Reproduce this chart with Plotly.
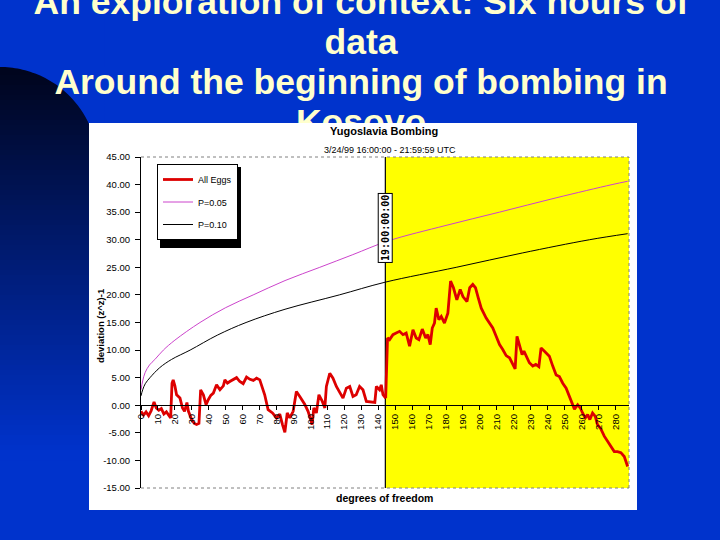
import numpy as np
import plotly.graph_objects as go

W, H = 720, 540

# ---------------- text ----------------
TITLE_LINES = ["An exploration of context: Six hours of", "data",
               "Around the beginning of bombing in", "Kosovo"]
CHART_TITLE = "Yugoslavia Bombing"
CHART_SUBTITLE = "3/24/99 16:00:00 - 21:59:59 UTC"
X_TITLE = "degrees of freedom"
Y_TITLE = "deviation (z^z)-1"
EVENT_LABEL = "19:00:00:00"
SERIES_NAMES = ["All Eggs", "P=0.05", "P=0.10"]

# ---------------- axes ----------------
X_MAX = 288
X_TICKS = list(range(0, 281, 10))
Y_TICKS = [-15, -10, -5, 0, 5, 10, 15, 20, 25, 30, 35, 40, 45]
Y_GRID = [-10, -5, 0, 5, 10, 15, 20, 25, 30, 35, 40]
EVENT_DF = 144.2
EVENT_LABEL_Y = 32.2

# ---------------- data ----------------
eggs_df = [0, 1.5, 3, 4.5, 6, 7.7, 9, 10.5, 12, 13.5, 15, 16.5, 17.5, 18.3, 19, 20, 21, 23,
           24.5, 25.7, 27.1, 28, 29.9, 31.5, 32.8, 34.2, 35.2, 36.8, 38.4, 39.7, 41.2, 42.7,
           44.6, 46.6, 48.6, 49.5, 51, 52.4, 54.4, 56.4, 58.3, 60.3, 62.3, 64.3, 66.3, 68.2,
           70.1, 71.5, 73, 75, 77.6, 80, 81.9, 83.5, 84.9, 86.3, 87.8, 89.8, 91.7, 93.7, 95,
           96.6, 98.6, 101, 102, 103.5, 105, 107, 108.5, 109.4, 111.4, 113.3, 115.3, 117.3,
           119.2, 121.2, 123.2, 125.1, 127, 129, 131, 133, 136, 138, 138.9, 140.8, 141.8,
           142.8, 144.4, 145, 145.5, 146.7, 148.7, 150.6, 152.6, 154.6, 156.5, 158.5, 160.5,
           162.4, 164, 166, 168, 169.3, 170.7, 171.9, 173.2, 174.2, 175.8, 177.2, 179.1,
           181.1, 182.7, 184.4, 186.4, 188.4, 190, 192.4, 194, 195.8, 197.4, 199, 200.8,
           203.7, 205.7, 207.6, 209.6, 211.6, 213.5, 215.5, 217.5, 219.4, 220.8, 221.9,
           223.3, 224.9, 226, 227.3, 229.2, 231.2, 233, 234.8, 236.1, 238.1, 240, 241, 243,
           245, 246.9, 248.9, 250.9, 252.8, 254.8, 255.8, 257.7, 259.3, 260.6, 262.2, 263.6,
           264.9, 266.5, 268.1, 269.4, 271.4, 273.4, 275.3, 277.3, 279.3, 281.2, 283.2,
           285.2, 287.2]
eggs_dev = [-1.1, -1.8, -1.2, -1.9, -1.0, 0.6, -0.5, -0.9, -0.6, -1.6, -1.2, -2.0, -2.3, 4.0,
            4.6, 3.5, 1.9, 1.3, -0.5, -1.1, 0.5, -1.1, -2.6, -3.3, -3.5, -3.3, 2.8, 1.9, 0.1,
            1.0, 1.8, 2.2, 3.7, 2.8, 3.5, 4.6, 4.0, 4.3, 4.7, 5.0, 4.3, 3.9, 5.1, 4.7, 4.5,
            4.9, 4.6, 3.3, 1.9, -0.8, -1.4, -2.3, -1.6, -3.5, -4.9, -1.4, -2.3, -1.1, 2.5,
            1.6, 1.0, 0.2, -1.1, -3.5, -0.5, -1.4, 1.9, 0.7, -0.5, 3.4, 5.8, 4.9, 3.4, 2.2,
            1.3, 3.1, 3.4, 1.6, 1.9, 3.4, 2.8, 0.7, 0.5, 0.5, 3.4, 2.8, 3.7, 1.9, 1.3, 7.7,
            12.2, 11.9, 12.8, 13.1, 13.4, 12.8, 13.1, 10.7, 13.7, 12.2, 11.9, 13.8, 12.2,
            12.8, 11.0, 14.0, 14.9, 17.6, 15.5, 16.1, 14.9, 16.7, 22.5, 21.3, 19.1, 21.0,
            19.7, 18.8, 21.3, 21.9, 21.3, 19.5, 17.6, 15.8, 14.9, 14.0, 12.5, 11.0, 10.1, 9.0,
            8.6, 7.4, 6.6, 12.5, 11.0, 9.2, 9.8, 8.9, 7.7, 7.1, 7.4, 7.0, 10.4, 9.8, 9.2, 8.9,
            7.1, 5.5, 5.2, 4.0, 3.1, 1.6, 0.1, -0.7, 0.1, -0.5, -1.4, -2.3, -1.7, -2.6, -1.4,
            -2.0, -3.5, -4.3, -5.6, -6.5, -7.6, -8.4, -8.4, -8.6, -9.3, -11.1]

p05_df = [0, 1, 2.4, 5, 8.2, 13.2, 20, 34.8, 50, 66.2, 85, 105.5, 125, 146, 180, 211.5,
          245, 278, 287.2]
p05_dev = [2.8, 4.4, 5.9, 7.3, 8.3, 10.0, 11.8, 15.0, 17.7, 20.0, 22.6, 25.0, 27.3, 29.8,
           32.6, 35.0, 37.6, 40.0, 40.6]

p10_df = [0, 1, 2.5, 5.3, 11, 18, 29, 45, 62, 85, 117, 144, 186, 225, 264.6, 287.2]
p10_dev = [1.7, 2.8, 3.9, 5.0, 6.8, 8.3, 10.0, 12.7, 15.0, 17.4, 20.0, 22.3, 25.0, 27.6,
           30.0, 31.1]

# ---------------- colours / fonts ----------------
BG_BLUE = "#0033cc"
TITLE_COLOR = "#ffffcc"
RED = "#dd0000"
MAGENTA = "#cc44cc"
YELLOW = "#ffff00"
FONT = "Liberation Sans"
MONO = "DejaVu Sans Mono"


def fx(px):
    return px / W


def fy(py):
    return 1 - py / H


# plot area in pixels
PL, PR, PT, PB = 141, 629, 157, 488
X_DOMAIN = [fx(PL), fx(PR)]
Y_DOMAIN = [fy(PB), fy(PT)]
zero_pos = Y_DOMAIN[0] + (0 - Y_TICKS[0]) / (Y_TICKS[-1] - Y_TICKS[0]) * (Y_DOMAIN[1] - Y_DOMAIN[0])

# white chart panel
BOX = dict(l=89, r=637, t=123, b=510)

fig = go.Figure()

fig.add_trace(go.Scatter(x=eggs_df, y=eggs_dev, mode="lines", name=SERIES_NAMES[0],
                         legendgroup="a", line=dict(color=RED, width=2.8), hoverinfo="skip"))
fig.add_trace(go.Scatter(x=p05_df, y=p05_dev, mode="lines", name=SERIES_NAMES[1],
                         legendgroup="b", line=dict(color=MAGENTA, width=1, shape="spline"),
                         hoverinfo="skip"))
fig.add_trace(go.Scatter(x=p10_df, y=p10_dev, mode="lines", name=SERIES_NAMES[2],
                         legendgroup="c", line=dict(color="black", width=1, shape="spline"),
                         hoverinfo="skip"))

# slide title as clipped text (partly hidden behind the chart panel)
TITLE_SIZE = 35.5
title_baselines = [17.7, 57.7, 97.7, 137.7]
fig.add_trace(go.Scatter(
    x=[361] * len(TITLE_LINES),
    y=[b - 0.35 * TITLE_SIZE for b in title_baselines],
    text=["<b>%s</b>" % t for t in TITLE_LINES],
    mode="text", textposition="middle center",
    textfont=dict(family=FONT, size=TITLE_SIZE, color=TITLE_COLOR),
    xaxis="x2", yaxis="y2", showlegend=False, hoverinfo="skip", cliponaxis=True))

shapes = []
# dark rounded column on the left, vertical gradient
c0 = np.array([0, 5, 28])
c1 = np.array([0, 51, 204])
ytop, ybot, step = 60, 460, 5
for y0 in range(ytop, ybot, step):
    t = (y0 - 65) / (450 - 65)
    t = min(max(t, 0), 1)
    c = (c0 + (c1 - c0) * t).astype(int)
    shapes.append(dict(type="rect", xref="paper", yref="paper", x0=fx(0), x1=fx(100),
                       y0=fy(y0 + step + 0.5), y1=fy(y0), line_width=0,
                       fillcolor="rgb(%d,%d,%d)" % tuple(c), layer="below"))
# cut the rounded top corner back to background blue
cx, cy, r = 0, 165, 98
pts = ["M %.4f %.4f" % (fx(0), fy(0)), "L %.4f %.4f" % (fx(0), fy(cy - r))]
for xx in np.linspace(0, r, 40):
    yy = cy - np.sqrt(max(r * r - xx * xx, 0))
    pts.append("L %.4f %.4f" % (fx(xx), fy(yy)))
pts += ["L %.4f %.4f" % (fx(105), fy(cy)), "L %.4f %.4f" % (fx(105), fy(0)), "Z"]
shapes.append(dict(type="path", xref="paper", yref="paper", path=" ".join(pts),
                   fillcolor=BG_BLUE, line_width=0, layer="below"))
# white chart panel
shapes.append(dict(type="rect", xref="paper", yref="paper", x0=fx(BOX["l"]), x1=fx(BOX["r"]),
                   y0=fy(BOX["b"]), y1=fy(BOX["t"]), fillcolor="white", line_width=0,
                   layer="below"))
# yellow period after the event
shapes.append(dict(type="rect", xref="x", yref="y", x0=EVENT_DF, x1=X_MAX,
                   y0=Y_TICKS[0], y1=Y_TICKS[-1], fillcolor=YELLOW, line_width=0,
                   layer="below"))
# event line
shapes.append(dict(type="line", xref="x", yref="y", x0=EVENT_DF, x1=EVENT_DF,
                   y0=Y_TICKS[0], y1=Y_TICKS[-1], line=dict(color="black", width=1.2),
                   layer="between"))
# dotted plot border (top, right, bottom)
for (x0, y0, x1, y1) in [(0, 1, 1, 1), (1, 0, 1, 1), (0, 0, 1, 0)]:
    shapes.append(dict(type="line", xref="x domain", yref="y domain", x0=x0, y0=y0,
                       x1=x1, y1=y1, line=dict(color="#808080", width=1, dash="dot"),
                       layer="above"))
# legend drop shadow
LEG = dict(l=157, t=164, w=81, h=81)
shapes.append(dict(type="rect", xref="paper", yref="paper", x0=fx(LEG["l"] + 3),
                   x1=fx(LEG["l"] + 3 + LEG["w"]), y0=fy(LEG["t"] + 3 + LEG["h"]),
                   y1=fy(LEG["t"] + 3), fillcolor="black", line_width=0, layer="above"))

A = dict(xref="paper", yref="paper", showarrow=False, xanchor="center", yanchor="middle")
annotations = [
    dict(A, text="<b>%s</b>" % CHART_TITLE, x=fx(384), y=fy(131),
         font=dict(family=FONT, size=11, color="black")),
    dict(A, text=CHART_SUBTITLE, x=fx(390), y=fy(150),
         font=dict(family=FONT, size=9, color="black")),
    dict(A, text="<b>%s</b>" % X_TITLE, x=fx(384), y=fy(498),
         font=dict(family=FONT, size=10.5, color="black")),
    dict(A, text="<b>%s</b>" % Y_TITLE, x=fx(100), y=fy(326), textangle=-90,
         font=dict(family=FONT, size=9.5, color="black")),
    dict(text="<b>%s</b>" % EVENT_LABEL, x=EVENT_DF, y=EVENT_LABEL_Y, xref="x", yref="y",
         xanchor="center", yanchor="middle",
         showarrow=False, textangle=-90, bgcolor="white", bordercolor="black",
         borderwidth=1, borderpad=1, font=dict(family=MONO, size=10, color="black")),
]

fig.update_layout(
    width=W, height=H,
    margin=dict(l=0, r=0, t=0, b=0, pad=0, autoexpand=False),
    paper_bgcolor=BG_BLUE,
    plot_bgcolor="rgba(0,0,0,0)",
    font=dict(family=FONT, color="black"),
    shapes=shapes,
    annotations=annotations,
    showlegend=True,
    legend=dict(x=fx(LEG["l"]), y=fy(LEG["t"]), xanchor="left", yanchor="top",
                bgcolor="white", bordercolor="black", borderwidth=1,
                font=dict(family=FONT, size=9, color="black"),
                tracegroupgap=3.5, itemwidth=30),
    xaxis=dict(domain=X_DOMAIN, range=[0, X_MAX], anchor="free", position=zero_pos,
               tickmode="array", tickvals=X_TICKS, ticktext=[str(v) for v in X_TICKS],
               tickangle=-90, ticks="outside", ticklen=4, tickcolor="black",
               showline=True, linecolor="black", linewidth=1, showgrid=False,
               zeroline=False, automargin=False,
               tickfont=dict(family=FONT, size=9.5, color="black")),
    yaxis=dict(domain=Y_DOMAIN, range=[Y_TICKS[0], Y_TICKS[-1]], anchor="x",
               tickmode="array", tickvals=Y_TICKS,
               ticktext=["%.2f" % v for v in Y_TICKS],
               ticks="outside", ticklen=5, tickcolor="black", showline=True,
               linecolor="black", linewidth=1, showgrid=False, zeroline=False,
               ticklabelstandoff=3, automargin=False,
               tickfont=dict(family=FONT, size=9.5, color="black")),
    yaxis3=dict(overlaying="y", range=[Y_TICKS[0], Y_TICKS[-1]], tickmode="array",
                tickvals=Y_GRID, showticklabels=False, ticks="", showgrid=True,
                gridcolor="black", gridwidth=1.2, zeroline=False, showline=False,
                automargin=False),
    xaxis2=dict(domain=[0, 1], range=[0, W], anchor="y2", visible=False, automargin=False),
    yaxis2=dict(domain=[fy(BOX["t"]), 1], range=[BOX["t"], 0], anchor="x2", visible=False,
                automargin=False),
)

fig.write_html("out.html", config={"displayModeBar": False, "responsive": False},
               post_script="document.body.style.margin='0';"
                           "document.body.style.overflow='hidden';"
                           "document.documentElement.style.overflow='hidden';")
